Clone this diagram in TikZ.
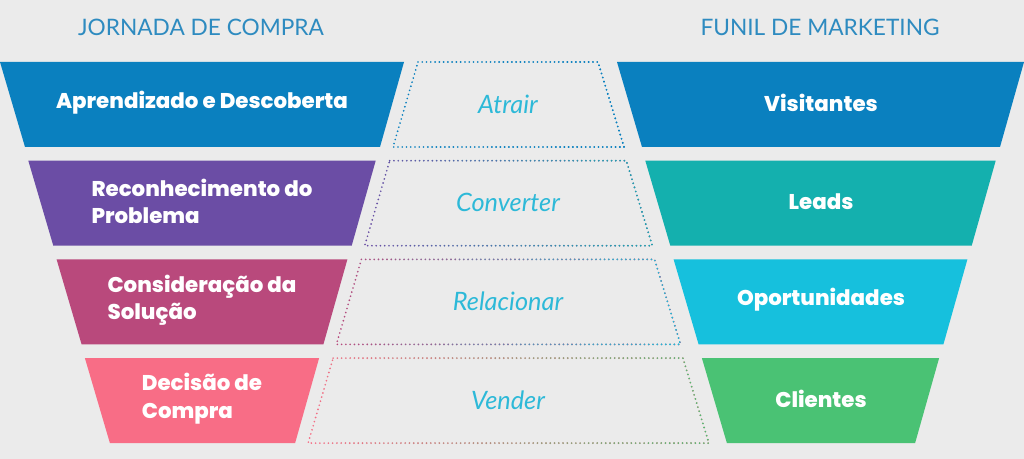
\documentclass[tikz,border=0pt]{standalone}
\usepackage{fontspec}
\setmainfont{Lato}
\newfontfamily\boxfont{Poppins}[BoldFont={Poppins ExtraBold}]
\usetikzlibrary{fadings}

\definecolor{fundo}{HTML}{EBEBEB}
\definecolor{titulo}{HTML}{2E8BC0}
\definecolor{acaotxt}{HTML}{2DB9D8}
\definecolor{azul}{HTML}{0A80BF}
\definecolor{roxo}{HTML}{6B4DA5}
\definecolor{magenta}{HTML}{B9497C}
\definecolor{rosa}{HTML}{F86D86}
\definecolor{turquesa}{HTML}{14B0AE}
\definecolor{ciano}{HTML}{16C0DD}
\definecolor{verde}{HTML}{4AC274}

\tikzset{
	heading/.style={text=titulo, font=\fontsize{17}{20}\selectfont},
	etapa/.style={text=white, align=left, font=\boxfont\bfseries\fontsize{16}{20.5}\selectfont},
	acao/.style={text=acaotxt, font=\itshape\fontsize{19}{22}\selectfont},
	dotline/.style={line width=1.4pt, line cap=round, dash pattern=on 0pt off 3.2pt}
}

\begin{document}
\begin{tikzpicture}[x=0.75pt,y=-0.75pt]
	\fill[fundo] (0,0) rectangle (1024,459);
	\useasboundingbox (0,0) rectangle (1024,459);
	\node[heading] (jornada) at (201,27) {JORNADA DE COMPRA};
	\node[heading] (funil) at (820,27) {FUNIL DE MARKETING};
	% one row per stage: left funnel, dotted middle, right funnel
	\foreach \i/\lc/\rc/\jtext/\ftext/\mtext in {
		0/azul/azul/{Aprendizado e Descoberta}/Visitantes/Atrair,
		1/roxo/turquesa/{Reconhecimento do\\Problema}/Leads/Converter,
		2/magenta/ciano/{Consideração da\\Solução}/Oportunidades/Relacionar,
		3/rosa/verde/{Decisão de\\Compra}/Clientes/Vender}
	{
		\pgfmathsetmacro{\ytop}{62+98.7*\i}
		\pgfmathsetmacro{\ybot}{\ytop+85}
		\pgfmathsetmacro{\dx}{28.3*\i}
		\fill[\lc] (\dx,\ytop) -- (404-\dx,\ytop) -- (380-\dx,\ybot) -- (25+\dx,\ybot) -- cycle;
		\fill[\rc] (617+\dx,\ytop) -- (1024-\dx,\ytop) -- (1000-\dx,\ybot) -- (642+\dx,\ybot) -- cycle;
		\draw[dotline,\lc] (418-\dx,\ytop) -- (598+\dx,\ytop) -- (624+\dx,\ybot) -- (393-\dx,\ybot) -- cycle;
		\draw[dotline,\rc,path fading=west] (418-\dx,\ytop) -- (598+\dx,\ytop) -- (624+\dx,\ybot) -- (393-\dx,\ybot) -- cycle;
		\node[etapa] (etapa-\i) at (202,\ytop+40.5) {\jtext};
		\node[etapa] (funil-\i) at (821,\ytop+40.5) {\ftext};
		\node[acao] (acao-\i) at (508,\ytop+42) {\mtext};
	}
\end{tikzpicture}
\end{document}
